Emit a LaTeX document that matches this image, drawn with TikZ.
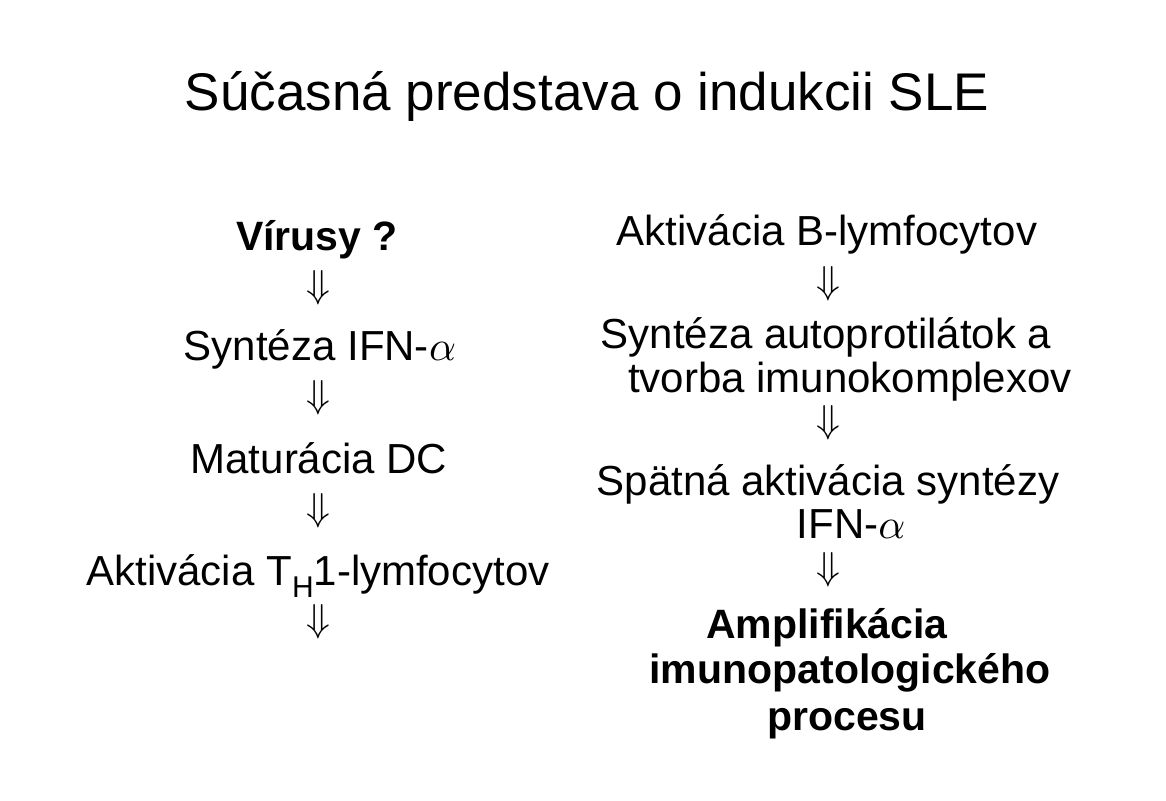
\documentclass[tikz,border=0pt]{standalone}
\usepackage{graphicx}
\usepackage{fontspec}
\setmainfont{Liberation Sans}
\usetikzlibrary{positioning}
\newcommand{\alphasym}{\scalebox{4.2}{\fontsize{10}{12}\selectfont$\alpha$}}
\newcommand{\dnarrow}{\scalebox{3.9}{\fontsize{10}{12}\selectfont$\Downarrow$}}

\begin{document}
\begin{tikzpicture}[x=1pt,y=-1pt,
    txt/.style={font=\fontsize{42}{48}\selectfont, inner sep=0pt, anchor=base},
    bold/.style={txt, font=\fontsize{41}{48}\selectfont\bfseries},
    arr/.style={inner sep=0pt}]
      \useasboundingbox (0,0) rectangle (1166,800);
      \node[txt, font=\fontsize{53}{60}\selectfont] (title) at (587,110) {Súčasná predstava o indukcii SLE};
      % left column
      \node[bold] (vir) at (317,250) {Vírusy ?};
      \node[arr] (a1) at (318,288) {\dnarrow};
      \node[txt] (syn) at (320,360) {Syntéza IFN-\alphasym};
      \node[arr] (a2) at (318,398) {\dnarrow};
      \node[txt] (mat) at (319,473) {Maturácia DC};
      \node[arr] (a3) at (318,511) {\dnarrow};
      \node[txt] (th) at (318,585) {Aktivácia T\raisebox{-12pt}{\fontsize{30}{30}\selectfont H}1-lymfocytov};
      \node[arr] (a4) at (318,622) {\dnarrow};
      % right column
      \node[txt] (bly) at (827,245) {Aktivácia B-lymfocytov};
      \node[arr] (b1) at (828,284) {\dnarrow};
      \node[txt] (aut) at (826,348) {Syntéza autoprotilátok a};
      \node[txt] (kom) at (850,392) {tvorba imunokomplexov};
      \node[arr] (b2) at (828,423) {\dnarrow};
      \node[txt] (spa) at (828,495) {Spätná aktivácia syntézy};
      \node[txt] (ifn) at (851,538) {IFN-\alphasym};
      \node[arr] (b3) at (828,570) {\dnarrow};
      \node[bold] (amp) at (827,638) {Amplifikácia};
      \node[bold] (imu) at (850,683) {imunopatologického};
      \node[bold] (pro) at (847,730) {procesu};
\end{tikzpicture}
\end{document}
